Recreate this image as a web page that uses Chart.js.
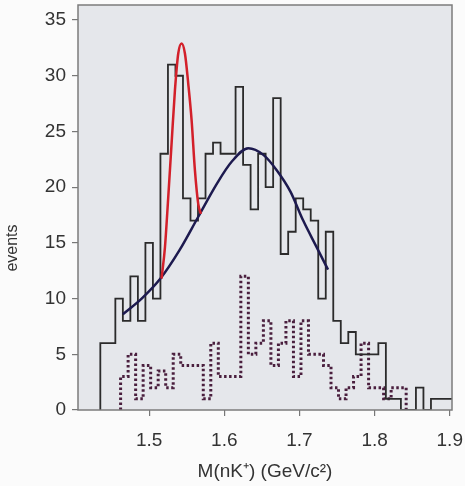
<!DOCTYPE html>
<html>
<head>
<meta charset="utf-8">
<script src="https://cdn.jsdelivr.net/npm/chart.js@4.4.0/dist/chart.umd.min.js"></script>
<style>
  html, body { margin: 0; padding: 0; background: #fbfbfb; }
</style>
</head>
<body>
<canvas id="massChart" width="465" height="486"></canvas>
<script>
// invariant mass bins, 10 MeV wide
const binCenters = [
  1.44, 1.45, 1.46, 1.47, 1.48, 1.49, 1.50, 1.51, 1.52, 1.53,
  1.54, 1.55, 1.56, 1.57, 1.58, 1.59, 1.60, 1.61, 1.62, 1.63,
  1.64, 1.65, 1.66, 1.67, 1.68, 1.69, 1.70, 1.71, 1.72, 1.73,
  1.74, 1.75, 1.76, 1.77, 1.78, 1.79, 1.80, 1.81, 1.82, 1.83,
  1.84, 1.85, 1.86, 1.87, 1.88, 1.89, 1.90
];
// selected events per bin
const eventCounts = [
  3, 6, 6, 10, 8, 12, 8, 15, 10, 23,
  31, 30, 19, 17, 19, 23, 24, 23, 23, 29,
  22, 18, 23, 20, 28, 14, 16, 19, 18, 17,
  10, 16, 8, 6, 7, 5, 5, 5, 6, 1,
  1, 0, 0, 2, 0, 1, 1
];
// mixed-event background (dotted), null where not plotted
const mixedCounts = [
  null, null, null, 3, 3, 5, 1, 4, 2, 3.5,
  2, 5, 4, 4, 4, 1, 6, 3, 3, 3,
  12, 5, 6, 8, 4, 6, 8, 3, 8, 5,
  5, 4, 2, 1, 2, 3, 6, 2, 2, 1,
  2, null, null, null, null, null, null
];
// smooth background fit
const bgFitMass = [1.465, 1.49, 1.515, 1.54, 1.565, 1.59, 1.61, 1.632, 1.652, 1.67, 1.688, 1.705, 1.723, 1.738];
const bgFitEvents = [8.6, 10.0, 11.8, 14.3, 17.3, 20.3, 22.3, 23.5, 22.9, 21.5, 19.6, 17.0, 14.6, 12.6];
// peak + background fit
const peakFitMass = [1.5165, 1.521, 1.5253, 1.5299, 1.5343, 1.5387, 1.5432, 1.5476, 1.552, 1.5565, 1.5609, 1.5653, 1.5689];
const peakFitEvents = [11.8, 14.6, 19.0, 24.0, 28.7, 32.0, 32.9, 32.0, 29.3, 26.0, 21.5, 18.5, 17.6];

const xTickValues = [1.5, 1.6, 1.7, 1.8, 1.9];
const yTickValues = [0, 5, 10, 15, 20, 25, 30, 35];

const BIN_HALF = 0.005;
const MIXED_SHIFT = -0.003;
const FONT = "'Liberation Sans', Arial, sans-serif";

// outline of a histogram as points for a stepped line
function histOutline(centers, counts, shift) {
  const pts = [];
  let last = null;
  centers.forEach((c, i) => {
    const v = counts[i];
    if (v === null || v === undefined) return;
    const lo = c - BIN_HALF + shift;
    if (!last) pts.push({ x: lo, y: 0 });
    pts.push({ x: lo, y: v });
    last = { hi: c + BIN_HALF + shift, v: v };
  });
  pts.push({ x: last.hi, y: last.v });
  pts.push({ x: last.hi, y: 0 });
  return pts;
}

// keep tick labels from pushing the plot area inwards
function noLabelPadding(s) {
  s.paddingTop = 0;
  s.paddingBottom = 0;
  s.paddingLeft = 0;
  s.paddingRight = 0;
}

const plotFrame = {
  id: 'plotFrame',
  beforeDraw(chart) {
    const { ctx, chartArea: a } = chart;
    ctx.save();
    ctx.fillStyle = '#e5e7eb';
    ctx.fillRect(a.left, a.top, a.width, a.height);
    ctx.restore();
  },
  afterDraw(chart) {
    const { ctx, chartArea: a } = chart;
    ctx.save();
    ctx.strokeStyle = '#7c7c7c';
    ctx.lineWidth = 1.5;
    ctx.strokeRect(a.left, a.top, a.width, a.height);
    // y axis title
    ctx.translate(13, 248);
    ctx.rotate(-Math.PI / 2);
    ctx.fillStyle = '#333';
    ctx.font = '16px ' + FONT;
    ctx.textAlign = 'center';
    ctx.textBaseline = 'middle';
    ctx.fillText('events', 0, 0);
    ctx.restore();
  }
};

new Chart(document.getElementById('massChart'), {
  type: 'line',
  data: {
    datasets: [
      {
        data: peakFitMass.map((m, i) => ({ x: m, y: peakFitEvents[i] })),
        borderColor: '#d3202a',
        borderWidth: 2.5,
        pointRadius: 0,
        cubicInterpolationMode: 'monotone',
        order: 0
      },
      {
        data: bgFitMass.map((m, i) => ({ x: m, y: bgFitEvents[i] })),
        borderColor: '#1d1a4f',
        borderWidth: 2.5,
        pointRadius: 0,
        cubicInterpolationMode: 'monotone',
        order: 1
      },
      {
        data: histOutline(binCenters, eventCounts, 0),
        borderColor: '#2b2b2b',
        borderWidth: 1.8,
        pointRadius: 0,
        stepped: 'after',
        order: 2
      },
      {
        data: histOutline(binCenters, mixedCounts, MIXED_SHIFT),
        borderColor: '#4a1f3e',
        borderWidth: 3,
        borderDash: [2.5, 2.5],
        pointRadius: 0,
        stepped: 'after',
        order: 3
      }
    ]
  },
  options: {
    responsive: false,
    animation: false,
    devicePixelRatio: 1,
    layout: { padding: { left: 0, right: 13, top: 5, bottom: 0 } },
    plugins: { legend: { display: false }, tooltip: { enabled: false } },
    scales: {
      x: {
        type: 'linear',
        min: 1.4053,
        max: 1.903,
        afterFit: s => { s.height = 76; noLabelPadding(s); },
        afterBuildTicks: s => { s.ticks = xTickValues.map(v => ({ value: v })); },
        grid: { drawOnChartArea: false, drawTicks: true, tickLength: 6, color: '#777', lineWidth: 1.2 },
        border: { display: false },
        ticks: {
          font: { family: FONT, size: 19 },
          color: '#333',
          padding: 13,
          maxRotation: 0,
          callback: v => v.toFixed(1)
        },
        title: {
          display: true,
          text: 'M(nK\u207A) (GeV/c\u00B2)',
          font: { family: FONT, size: 19 },
          color: '#333',
          padding: { top: 0, bottom: 3 }
        }
      },
      y: {
        min: 0,
        max: 36.35,
        afterFit: s => { s.width = 78; noLabelPadding(s); },
        afterBuildTicks: s => { s.ticks = yTickValues.map(v => ({ value: v })); },
        grid: { drawOnChartArea: false, drawTicks: true, tickLength: 6, color: '#777', lineWidth: 1.2 },
        border: { display: false },
        ticks: {
          font: { family: FONT, size: 19 },
          color: '#333',
          padding: 6
        }
      }
    }
  },
  plugins: [plotFrame]
});
</script>
</body>
</html>
